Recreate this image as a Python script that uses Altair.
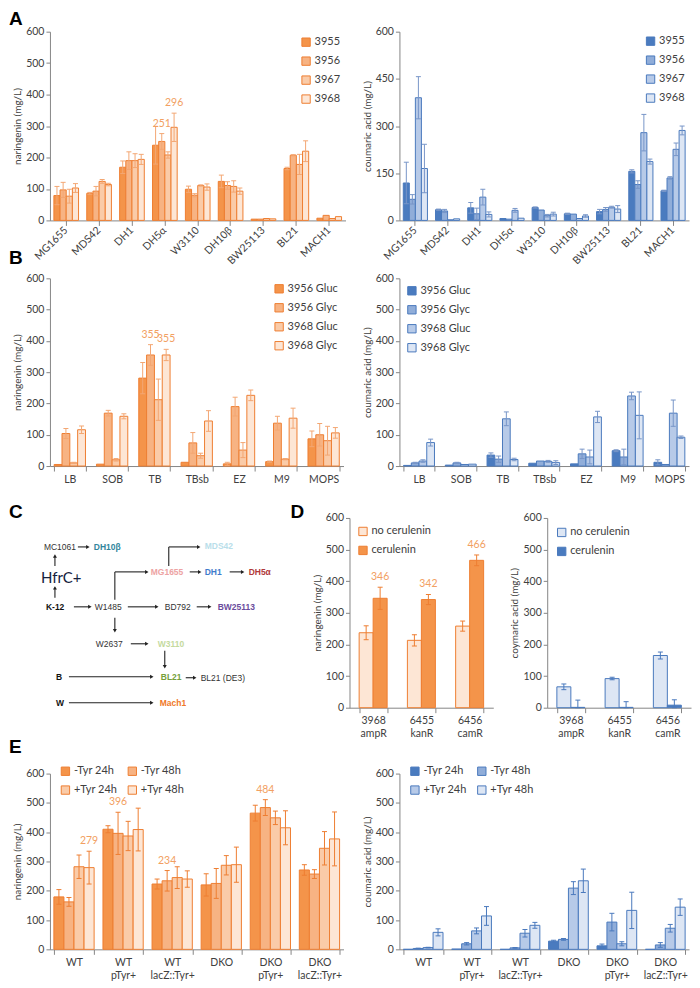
import altair as alt
import pandas as pd

FONT = "Lato"
LETTER_FONT = "Liberation Sans"
AX = "#868686"
TXT = "#404040"

OR_STROKE = "#EE7E32"
OR_FILLS = ["#F4944A", "#F7B383", "#FACBA8", "#FDE6D5"]
OR_ERR = "#F3A773"
OR_ANN = "#F2A062"
BL_STROKE = "#4A79BD"
BL_FILLS = ["#4A7BBF", "#90ADD9", "#B7CAE8", "#DDE6F4"]
BL_ERR = "#7896C8"

# ---------------- Panel A ----------------
strains_A = ["MG1655", "MDS42", "DH1", "DH5α", "W3110", "DH10β", "BW25113", "BL21", "MACH1"]
plasmids_A = ["3955", "3956", "3967", "3968"]
nar_A_3955 = [79, 86, 169, 239, 99, 124, 4, 165, 7]
nar_A_3956 = [97, 93, 190, 251, 80, 111, 4, 207, 16]
nar_A_3967 = [77, 124, 190, 208, 111, 108, 6, 178, 6]
nar_A_3968 = [103, 114, 194, 296, 106, 93, 5, 220, 12]
nar_A_err_3955 = [29, 3, 20, 60, 10, 20, 0, 4, 0]
nar_A_err_3956 = [24, 15, 28, 25, 5, 12, 0, 2, 0]
nar_A_err_3967 = [22, 6, 22, 10, 2, 18, 0, 32, 0]
nar_A_err_3968 = [14, 4, 16, 45, 10, 10, 0, 33, 0]
cou_A_3955 = [119, 34, 40, 6, 41, 21, 28, 156, 94]
cou_A_3956 = [67, 30, 21, 4, 33, 20, 35, 114, 135]
cou_A_3967 = [390, 2, 74, 32, 15, 6, 42, 279, 226]
cou_A_3968 = [165, 5, 19, 7, 20, 14, 36, 187, 286]
cou_A_err_3955 = [66, 2, 17, 0, 2, 2, 7, 5, 2]
cou_A_err_3956 = [15, 5, 18, 0, 0, 0, 6, 12, 4]
cou_A_err_3967 = [67, 0, 25, 6, 4, 0, 3, 58, 20]
cou_A_err_3968 = [77, 0, 8, 0, 6, 4, 11, 8, 14]

# ---------------- Panel B ----------------
media_B = ["LB", "SOB", "TB", "TBsb", "EZ", "M9", "MOPS"]
series_B = ["3956 Gluc", "3956 Glyc", "3968 Gluc", "3968 Glyc"]
nar_B_3956gluc = [5, 6, 281, 12, 7, 14, 87]
nar_B_3956glyc = [104, 169, 355, 74, 190, 137, 100]
nar_B_3968gluc = [10, 20, 212, 33, 51, 22, 81]
nar_B_3968glyc = [116, 159, 355, 144, 226, 153, 106]
nar_B_err_3956gluc = [0, 0, 50, 0, 5, 2, 25]
nar_B_err_3956glyc = [16, 9, 33, 33, 30, 22, 36]
nar_B_err_3968gluc = [2, 4, 66, 8, 24, 2, 46]
nar_B_err_3968glyc = [12, 8, 18, 33, 17, 32, 17]
cou_B_3956gluc = [2, 3, 35, 9, 7, 49, 12]
cou_B_3956glyc = [10, 10, 22, 16, 39, 29, 5]
cou_B_3968gluc = [16, 5, 151, 15, 29, 224, 169]
cou_B_3968glyc = [75, 6, 21, 11, 157, 162, 92]
cou_B_err_3956gluc = [0, 0, 7, 0, 0, 3, 8]
cou_B_err_3956glyc = [2, 2, 10, 0, 15, 25, 0]
cou_B_err_3968gluc = [4, 0, 22, 3, 22, 12, 42]
cou_B_err_3968glyc = [11, 0, 4, 6, 18, 75, 4]

# ---------------- Panel D ----------------
strains_D = ["3968 ampR", "6455 kanR", "6456 camR"]
series_D = ["no cerulenin", "cerulenin"]
nar_D_no = [237, 213, 258]
nar_D_cer = [346, 342, 466]
nar_D_err_no = [22, 18, 16]
nar_D_err_cer = [35, 16, 17]
cou_D_no = [66, 92, 165]
cou_D_cer = [1, 1, 8]
cou_D_err_no = [9, 4, 11]
cou_D_err_cer = [23, 18, 17]

# ---------------- Panel E ----------------
strains_E = ["WT", "WT pTyr+", "WT lacZ::Tyr+", "DKO", "DKO pTyr+", "DKO lacZ::Tyr+"]
series_E = ["-Tyr 24h", "-Tyr 48h", "+Tyr 24h", "+Tyr 48h"]
nar_E_m24 = [179, 410, 223, 220, 465, 271]
nar_E_m48 = [162, 396, 234, 225, 484, 257]
nar_E_p24 = [282, 387, 245, 287, 449, 345]
nar_E_p48 = [279, 409, 240, 289, 415, 377]
nar_E_err_m24 = [25, 12, 17, 38, 27, 18]
nar_E_err_m48 = [15, 72, 35, 51, 27, 15]
nar_E_err_p24 = [40, 50, 37, 33, 23, 57]
nar_E_err_p48 = [56, 73, 28, 60, 58, 92]
cou_E_m24 = [0, 1, 0, 28, 12, 0]
cou_E_m48 = [3, 19, 5, 34, 93, 15]
cou_E_p24 = [6, 63, 55, 209, 19, 72]
cou_E_p48 = [58, 114, 82, 234, 133, 144]
cou_E_err_m24 = [0, 0, 0, 3, 6, 0]
cou_E_err_m48 = [1, 4, 1, 3, 30, 8]
cou_E_err_p24 = [1, 10, 13, 22, 7, 13]
cou_E_err_p48 = [12, 32, 10, 40, 62, 28]

# ---------------- Panel C (strain lineage diagram) ----------------
node_text = ["MC1061", "W1485", "BD792", "W2637", "BL21 (DE3)",
             "DH10β", "K-12", "MG1655", "DH1", "DH5α", "MDS42", "BW25113",
             "W3110", "BL21", "B", "W", "Mach1", "HfrC+"]
node_x = [43, 94, 164, 95, 200, 93, 45, 150, 204, 248, 204, 217, 157, 160, 55, 55, 159, 40]
node_y = [546, 606, 606, 643, 677, 546, 606, 571, 571, 571, 545, 606, 643, 676, 676, 702, 702, 577]
node_color = ["#333333", "#333333", "#333333", "#333333", "#333333",
              "#31859C", "#111111", "#EDA3A3", "#3F7BCB", "#B0393A", "#B9DEEA", "#6A4C9C",
              "#C4DA9E", "#76A03A", "#111111", "#111111", "#F07828", "#14213D"]
node_style = ["n", "n", "n", "n", "n", "b", "b", "b", "b", "b", "b", "b", "b", "b", "b", "b", "b", "big"]
seg_x1 = [77, 54, 54, 73, 114, 114, 189, 229, 168, 168, 127, 196, 114, 130, 164, 68, 185, 68]
seg_y1 = [546, 565, 597, 606, 599, 571, 571, 571, 565, 546, 606, 606, 617, 643, 650, 676, 677, 702]
seg_x2 = [86, 54, 54, 88, 114, 145, 198, 241, 168, 197, 155, 208, 114, 145, 164, 150, 193, 150]
seg_y2 = [546, 555, 587, 606, 571, 571, 571, 571, 546, 546, 606, 606, 630, 643, 666, 676, 677, 702]
head_x = [87, 54, 54, 89, 146, 199, 242, 198, 156, 209, 114, 146, 164, 151, 194, 151]
head_y = [546, 555, 587, 606, 571, 571, 571, 546, 606, 606, 630, 643, 666, 676, 677, 702]
head_shape = ["triangle-right", "triangle-up", "triangle-up", "triangle-right", "triangle-right",
              "triangle-right", "triangle-right", "triangle-right", "triangle-right", "triangle-right",
              "triangle-down", "triangle-right", "triangle-down", "triangle-right", "triangle-right",
              "triangle-right"]


def y_axis(title, values):
    return alt.Axis(title=title, values=values, grid=False, tickSize=4, labelPadding=2, titlePadding=3,
                    domainColor=AX, tickColor=AX, labelFontSize=10.5, titleFontSize=10,
                    labelColor=TXT, titleColor=TXT, titleFontWeight="normal")


def x_axis(angle=0, split=False):
    kw = dict(title=None, tickSize=5, domainColor=AX, tickColor=AX,
              labelFontSize=10.5, labelColor=TXT, labelPadding=3, grid=False, labelAngle=angle)
    if angle:
        kw.update(labelAlign="right", labelBaseline="middle")
    else:
        kw.update(tickBand="extent")
    if split:
        kw.update(labelExpr="split(datum.label, ' ')", labelLineHeight=13)
    return alt.Axis(**kw)


def legend(orient, stroke, offset=None, lx=None, ly=None, cols=1):
    kw = dict(title=None, orient=orient, symbolType="square", symbolSize=70,
              symbolStrokeColor=stroke, symbolStrokeWidth=1, labelFontSize=11, labelColor=TXT,
              rowPadding=6, labelOffset=3, padding=0)
    if offset is not None:
        kw["offset"] = offset
    if lx is not None:
        kw.update(legendX=lx, legendY=ly)
    if cols > 1:
        kw.update(columns=cols, columnPadding=8, direction="horizontal")
    return alt.Legend(**kw)


def letter(t, x, y):
    return alt.Chart(pd.DataFrame({"t": [t]})).mark_text(
        font=LETTER_FONT, fontSize=19, fontWeight="bold", align="left", baseline="top", color="#000000"
    ).encode(x=alt.value(x), y=alt.value(y), text="t:N")


def indep(c):
    return c.resolve_scale(fill="independent", xOffset="independent", color="independent",
                           shape="independent").resolve_legend(fill="independent")


def panel(cats, series, vals, errs, fills, stroke, errc, yaxis, w, h, pin, pout, leg,
          angle=0, split=False, annots=(), extra=()):
    rows = []
    for si, s in enumerate(series):
        for ci, c in enumerate(cats):
            v = vals[si][ci]
            e = errs[si][ci]
            rows.append({"cat": c, "ser": s, "val": v, "err": e,
                         "lo": max(v - e, 0), "hi": v + e,
                         "ann": str(v) if (c, s) in annots else ""})
    df = pd.DataFrame(rows)
    x = alt.X("cat:N", sort=cats, scale=alt.Scale(domain=cats, paddingInner=pin, paddingOuter=pout),
              axis=x_axis(angle, split))
    xo = alt.XOffset("ser:N", sort=series, scale=alt.Scale(domain=series, paddingInner=0, paddingOuter=0))

    def Y(f):
        return alt.Y(f"{f}:Q", scale=alt.Scale(domain=[0, 600], nice=False), axis=yaxis)

    base = alt.Chart(df)
    bars = base.mark_bar(stroke=stroke, strokeWidth=1).encode(
        x=x, xOffset=xo, y=Y("val"),
        fill=alt.Fill("ser:N", sort=series, scale=alt.Scale(domain=series, range=fills), legend=leg))
    eb = base.transform_filter("datum.err > 0")
    rule = eb.mark_rule(color=errc, strokeWidth=1).encode(x=x, xOffset=xo, y=Y("lo"), y2="hi:Q")
    cap_hi = eb.mark_tick(color=errc, thickness=1, size=5, opacity=1).encode(x=x, xOffset=xo, y=Y("hi"))
    cap_lo = eb.mark_tick(color=errc, thickness=1, size=5, opacity=1).encode(x=x, xOffset=xo, y=Y("lo"))
    layers = [bars, rule, cap_hi, cap_lo]
    if annots:
        txt = base.transform_filter("datum.ann != ''").mark_text(
            color=OR_ANN, fontSize=10.5, baseline="bottom", dy=-5).encode(
            x=x, xOffset=xo, y=Y("hi"), text="ann:N")
        layers.append(txt)
    layers += list(extra)
    return alt.layer(*layers).properties(width=w, height=h)


Y100 = [0, 100, 200, 300, 400, 500, 600]
Y150 = [0, 150, 300, 450, 600]

# plot-area geometry (page pixels): all first-column plots share the same left edge X0
X0 = 49
LET = 8 - X0            # letters sit at the page's left margin
CW = 349 - 54 - X0      # diagram width so that panel D starts at x = 349
CH = 190
DW = 144

# ---- Row A ----
A_left = panel(strains_A, plasmids_A,
               [nar_A_3955, nar_A_3956, nar_A_3967, nar_A_3968],
               [nar_A_err_3955, nar_A_err_3956, nar_A_err_3967, nar_A_err_3968],
               OR_FILLS, OR_STROKE, OR_ERR, y_axis("naringenin (mg/L)", Y100),
               296, 189, 0.25, 0.12, legend("top-right", OR_STROKE, offset=5), angle=-45,
               annots=[("DH5α", "3956"), ("DH5α", "3968")],
               extra=[letter("A", LET, -22), letter("B", LET, 218)])
A_right = panel(strains_A, plasmids_A,
                [cou_A_3955, cou_A_3956, cou_A_3967, cou_A_3968],
                [cou_A_err_3955, cou_A_err_3956, cou_A_err_3967, cou_A_err_3968],
                BL_FILLS, BL_STROKE, BL_ERR, y_axis("coumaric acid (mg/L)", Y150),
                290, 189, 0.25, 0.12, legend("top-right", BL_STROKE, offset=4), angle=-45)
rowA = indep(alt.hconcat(A_left, A_right, spacing=54, bounds="flush"))

# ---- Row B ----
B_left = panel(media_B, series_B,
               [nar_B_3956gluc, nar_B_3956glyc, nar_B_3968gluc, nar_B_3968glyc],
               [nar_B_err_3956gluc, nar_B_err_3956glyc, nar_B_err_3968gluc, nar_B_err_3968glyc],
               OR_FILLS, OR_STROKE, OR_ERR, y_axis("naringenin (mg/L)", Y100),
               294, 188, 0.26, 0.1, legend("top-right", OR_STROKE, offset=5),
               annots=[("TB", "3956 Glyc"), ("TB", "3968 Glyc")])
B_right = panel(media_B, series_B,
                [cou_B_3956gluc, cou_B_3956glyc, cou_B_3968gluc, cou_B_3968glyc],
                [cou_B_err_3956gluc, cou_B_err_3956glyc, cou_B_err_3968gluc, cou_B_err_3968glyc],
                BL_FILLS, BL_STROKE, BL_ERR, y_axis("coumaric acid (mg/L)", Y100),
                290, 188, 0.26, 0.1, legend("top-left", BL_STROKE, offset=7))
rowB = indep(alt.hconcat(B_left, B_right, spacing=56, bounds="flush"))

# ---- Row C / D ----
xs = alt.Scale(domain=[X0, X0 + CW], nice=False, zero=False)
ys = alt.Scale(domain=[517 + CH, 517], nice=False, zero=False)
nodes = pd.DataFrame({"t": node_text, "x": node_x, "y": node_y, "c": node_color, "s": node_style})
segs = pd.DataFrame({"x1": seg_x1, "y1": seg_y1, "x2": seg_x2, "y2": seg_y2})
heads = pd.DataFrame({"x": head_x, "y": head_y, "shp": head_shape})

seg_layer = alt.Chart(segs).mark_rule(color="#222222", strokeWidth=1.1).encode(
    x=alt.X("x1:Q", scale=xs, axis=None), y=alt.Y("y1:Q", scale=ys, axis=None),
    x2="x2:Q", y2="y2:Q")
head_layer = alt.Chart(heads).mark_point(filled=True, size=16, color="#222222", opacity=1).encode(
    x=alt.X("x:Q", scale=xs, axis=None), y=alt.Y("y:Q", scale=ys, axis=None),
    shape=alt.Shape("shp:N", scale=None))


def node_layer(style, size, weight, font):
    return alt.Chart(nodes).transform_filter(f"datum.s == '{style}'").mark_text(
        align="left", baseline="middle", fontSize=size, fontWeight=weight, font=font).encode(
        x=alt.X("x:Q", scale=xs, axis=None), y=alt.Y("y:Q", scale=ys, axis=None),
        text="t:N", color=alt.Color("c:N", scale=None))


C_chart = alt.layer(
    seg_layer, head_layer,
    node_layer("n", 8.5, "normal", LETTER_FONT),
    node_layer("b", 8.5, "bold", LETTER_FONT),
    node_layer("big", 15, "normal", FONT),
    letter("C", LET, -15), letter("D", 290 - X0, -15), letter("E", LET, 220),
).properties(width=CW, height=CH)

D_left = panel(strains_D, series_D, [nar_D_no, nar_D_cer], [nar_D_err_no, nar_D_err_cer],
               [OR_FILLS[3], OR_FILLS[0]], OR_STROKE, OR_STROKE, y_axis("naringenin (mg/L)", Y100),
               DW, CH, 0.42, 0.2, legend("top-left", OR_STROKE, offset=8), split=True,
               annots=[(c, "cerulenin") for c in strains_D])
D_right = panel(strains_D, series_D, [cou_D_no, cou_D_cer], [cou_D_err_no, cou_D_err_cer],
                [BL_FILLS[3], BL_FILLS[0]], BL_STROKE, BL_STROKE, y_axis("coymaric acid (mg/L)", Y100),
                DW, CH, 0.42, 0.2, legend("top-left", BL_STROKE, offset=9), split=True)
rowCD = indep(alt.hconcat(C_chart, D_left, D_right, spacing=54, bounds="flush"))

# ---- Row E ----
E_left = panel(strains_E, series_E, [nar_E_m24, nar_E_m48, nar_E_p24, nar_E_p48],
               [nar_E_err_m24, nar_E_err_m48, nar_E_err_p24, nar_E_err_p48],
               OR_FILLS, OR_STROKE, OR_STROKE, y_axis("naringenin (mg/L)", Y100),
               294, 176, 0.18, 0.08, legend("none", OR_STROKE, lx=10, ly=-8, cols=2), split=True,
               annots=[("WT", "+Tyr 48h"), ("WT pTyr+", "-Tyr 48h"),
                       ("WT lacZ::Tyr+", "-Tyr 48h"), ("DKO pTyr+", "-Tyr 48h")])
E_right = panel(strains_E, series_E, [cou_E_m24, cou_E_m48, cou_E_p24, cou_E_p48],
                [cou_E_err_m24, cou_E_err_m48, cou_E_err_p24, cou_E_err_p48],
                BL_FILLS, BL_STROKE, BL_STROKE, y_axis("coumaric acid (mg/L)", Y100),
                290, 176, 0.18, 0.08, legend("none", BL_STROKE, lx=10, ly=-8, cols=2), split=True)
rowE = indep(alt.hconcat(E_left, E_right, spacing=56, bounds="flush"))

chart = indep(alt.vconcat(
    indep(alt.vconcat(rowA, rowB, spacing=3)),
    indep(alt.vconcat(rowCD, rowE, spacing=7)),
    spacing=17,
)).properties(
    padding={"left": 0, "top": 0, "right": 0, "bottom": 0}
).configure_view(stroke="transparent").configure_axis(
    labelFont=FONT, titleFont=FONT
).configure_legend(labelFont=FONT).configure_text(font=FONT)

chart.save("out.html", embed_options={"renderer": "svg", "actions": False})
